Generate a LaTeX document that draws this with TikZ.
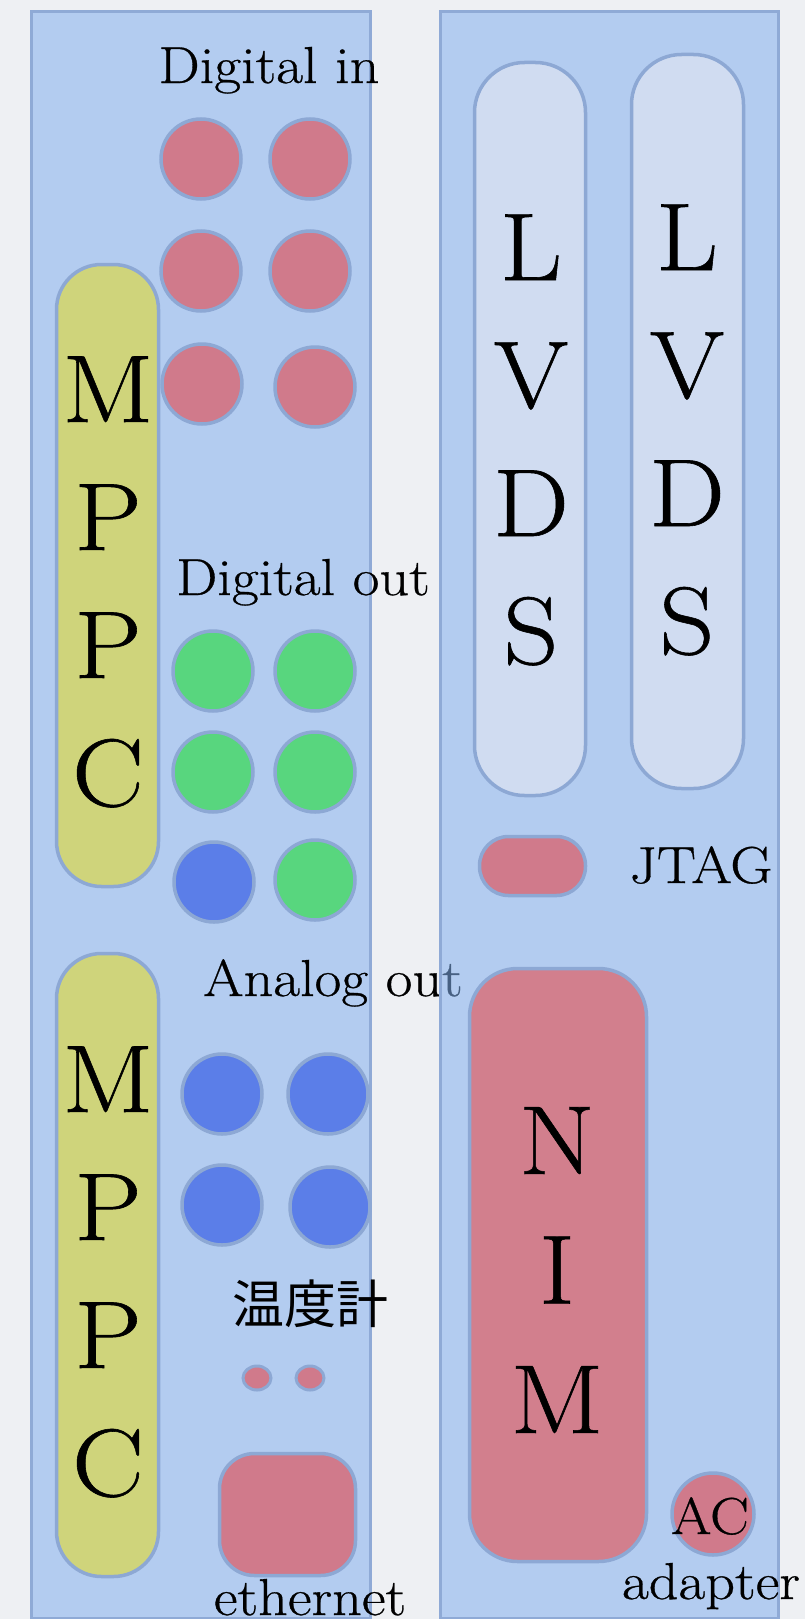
\documentclass[tikz,border=0pt]{standalone}
\usepackage{fontspec}
\usetikzlibrary{shapes.geometric}
\setmainfont{Latin Modern Roman}[FakeStretch=1.12, FakeBold=0.6]
\newfontfamily\cjkfont{Noto Sans CJK JP}
\definecolor{paper}{HTML}{EEF0F3}
\definecolor{panelfill}{HTML}{83B0EE}
\definecolor{panelline}{HTML}{8FAAD6}
\definecolor{partline}{HTML}{8DA8D4}
\definecolor{portred}{HTML}{D07A8B}
\definecolor{nimred}{HTML}{D27F8D}
\definecolor{mppcyellow}{HTML}{CFD47B}
\definecolor{ledgreen}{HTML}{58D67E}
\definecolor{ledblue}{HTML}{5B7EE8}
\definecolor{lvdsfill}{HTML}{D0DCF1}
\begin{document}
\begin{tikzpicture}[x=1pt,y=-1pt,
  every node/.style={inner sep=0pt, outer sep=0pt},
  panel/.style={rectangle, fill=panelfill, fill opacity=0.55, draw=panelline, line width=3pt, anchor=north west},
  part/.style={draw=partline, line width=3.5pt},
  jack/.style={circle, part, minimum size=80pt},
  slot/.style={rectangle, part, rounded corners=#1},
  label/.style={font=\fontsize{52}{60}\selectfont, anchor=base},
  tall/.style={font=\fontsize{96}{128}\selectfont, align=center},
]
% paper background and page size
\fill[paper] (0,0) rectangle (805,1619);
\useasboundingbox (0,0) rectangle (805,1619);

% ---------- left board ----------
\node[panel, minimum width=339pt, minimum height=1606pt] (leftpanel) at (31,12) {};

\node[slot=45pt, fill=mppcyellow, minimum width=102pt, minimum height=622pt] (mppcA) at (107.5,575.5) {};
\node[tall] (mppcAtxt) at (108,582) {M\\P\\P\\C};
\node[slot=45pt, fill=mppcyellow, minimum width=102pt, minimum height=623pt] (mppcB) at (107.5,1265) {};
\node[tall] (mppcBtxt) at (108,1272) {M\\P\\P\\C};

\node[label] (dinlbl) at (269,83) {Digital in};
\node[jack, fill=portred] (din1) at (201,159) {};
\node[jack, fill=portred] (din2) at (310,159) {};
\node[jack, fill=portred] (din3) at (201,271) {};
\node[jack, fill=portred] (din4) at (310,271) {};
\node[jack, fill=portred] (din5) at (202,384) {};
\node[jack, fill=portred] (din6) at (315,387) {};

\node[label] (doutlbl) at (303,595) {Digital out};
\node[jack, fill=ledgreen] (dout1) at (213,671) {};
\node[jack, fill=ledgreen] (dout2) at (315,671) {};
\node[jack, fill=ledgreen] (dout3) at (213,772) {};
\node[jack, fill=ledgreen] (dout4) at (315,772) {};
\node[jack, fill=ledblue] (dout5) at (214,882) {};
\node[jack, fill=ledgreen] (dout6) at (315,880) {};

\node[label] (aoutlbl) at (333,996) {Analog out};
\node[jack, fill=ledblue] (aout1) at (222,1094) {};
\node[jack, fill=ledblue] (aout2) at (328,1094) {};
\node[jack, fill=ledblue] (aout3) at (222,1205) {};
\node[jack, fill=ledblue] (aout4) at (330,1207) {};

\node[font=\cjkfont\fontsize{52}{60}\selectfont] (templbl) at (310,1304) {温度計};
\node[ellipse, part, line width=3pt, fill=portred, minimum width=28pt, minimum height=24pt] (temp1) at (257,1378) {};
\node[ellipse, part, line width=3pt, fill=portred, minimum width=28pt, minimum height=24pt] (temp2) at (310,1378) {};

\node[slot=35pt, fill=portred, minimum width=136pt, minimum height=122pt] (eth) at (287.5,1514.5) {};
\node[label] (ethlbl) at (310,1615) {ethernet};

% ---------- right board (translucent, laid over the left labels) ----------
\node[panel, minimum width=338pt, minimum height=1606pt] (rightpanel) at (440,12) {};

\node[slot=50pt, fill=lvdsfill, minimum width=111pt, minimum height=733pt] (lvdsA) at (530,429) {};
\node[tall] (lvdsAtxt) at (531,440) {L\\V\\D\\S};
\node[slot=50pt, fill=lvdsfill, minimum width=112pt, minimum height=734pt] (lvdsB) at (687.5,421.5) {};
\node[tall] (lvdsBtxt) at (687,430) {L\\V\\D\\S};

\node[slot=29pt, fill=portred, minimum width=106pt, minimum height=59pt] (jtag) at (532.5,866) {};
\node[label] (jtaglbl) at (701,883) {JTAG};

\node[slot=48pt, fill=nimred, minimum width=177pt, minimum height=593pt] (nim) at (558,1265) {};
\node[tall, font=\fontsize{98}{129.5}\selectfont] (nimtxt) at (557,1270) {N\\I\\M};

\node[jack, fill=portred, minimum size=82pt] (ac) at (713,1514) {};
\node[label] (aclbl) at (710,1534) {AC};
\node[label] (adlbl) at (711,1599) {adapter};
\end{tikzpicture}
\end{document}
